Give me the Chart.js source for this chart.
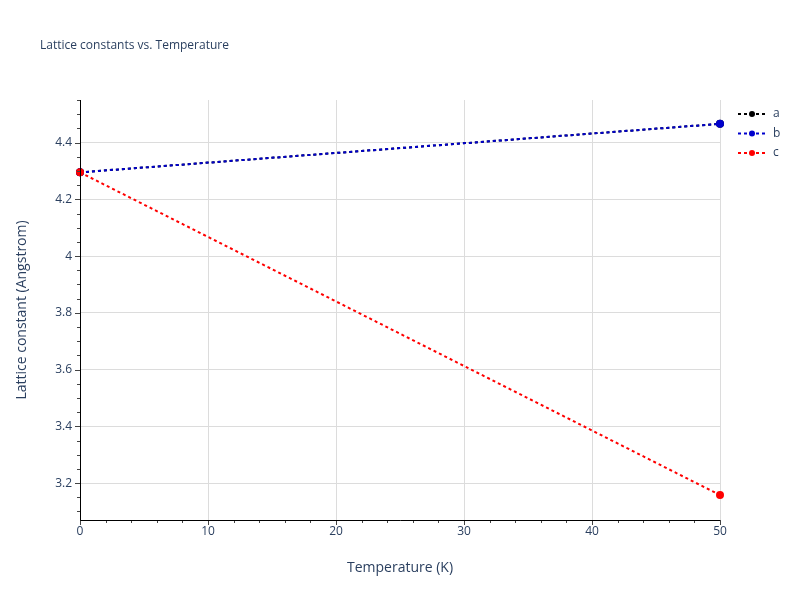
<!DOCTYPE html>
<html><head><meta charset="utf-8">
<script src="https://cdn.jsdelivr.net/npm/chart.js@4"></script>
<style>html,body{margin:0;padding:0;background:#fff}#w{width:800px;height:600px}</style>
</head><body><div id="w"><canvas id="c" width="800" height="600"></canvas></div>
<script>
const temperatures = [0, 50];
const seriesA = [4.295, 4.466];
const seriesB = [4.295, 4.466];
const seriesC = [4.295, 3.158];
const seriesNames = ['a', 'b', 'c'];
const seriesColors = ['#000000', '#0000cd', '#ff0000'];
const FONT = '"Open Sans", "DejaVu Sans", sans-serif';
const TXT = '#2a3f5f';

function pts(ys){ return temperatures.map((x,i)=>({x, y: ys[i]})); }
const datasets = [seriesA, seriesB, seriesC].map((ys,i)=>({
  label: seriesNames[i], data: pts(ys), borderColor: seriesColors[i], backgroundColor: seriesColors[i],
  borderWidth: 2, borderDash: [3,3], pointRadius: 3, pointHoverRadius: 3, clip: false, order: 2 - i
}));

const extras = {
  id: 'extras',
  afterDraw(chart){
    const ctx = chart.ctx, a = chart.chartArea, xs = chart.scales.x, ys = chart.scales.y;
    ctx.save();
    ctx.strokeStyle = '#444'; ctx.lineWidth = 1;
    for (let v = 0; v <= 50.001; v += 2) {
      const p = Math.round(xs.getPixelForValue(v)) + 0.5;
      const len = (Math.abs(v % 10) < 1e-6) ? 5 : 3;
      ctx.beginPath(); ctx.moveTo(p, a.bottom); ctx.lineTo(p, a.bottom + len); ctx.stroke();
    }
    for (let v = 3.1; v <= 4.55; v += 0.05) {
      const p = Math.round(ys.getPixelForValue(v)) + 0.5;
      const major = Math.abs((v*10) % 2) < 1e-6 || Math.abs((v*10)%2 - 2) < 1e-6;
      const len = major ? 5 : 3;
      ctx.beginPath(); ctx.moveTo(a.left, p); ctx.lineTo(a.left - len, p); ctx.stroke();
    }
    ctx.strokeStyle = '#000';
    ctx.beginPath(); ctx.moveTo(a.left+0.5, a.top); ctx.lineTo(a.left+0.5, a.bottom+0.5); ctx.lineTo(a.right, a.bottom+0.5); ctx.stroke();
    ctx.fillStyle = TXT; ctx.font = '12px ' + FONT; ctx.textBaseline = 'middle'; ctx.textAlign = 'left';
    ctx.fillText('Lattice constants vs. Temperature', 40, 46);
    seriesNames.forEach((n,i)=>{
      const y = 114 + i*19.5;
      ctx.strokeStyle = seriesColors[i]; ctx.lineWidth = 2; ctx.setLineDash([3,3]);
      ctx.beginPath(); ctx.moveTo(738, y); ctx.lineTo(766, y); ctx.stroke(); ctx.setLineDash([]);
      ctx.fillStyle = seriesColors[i]; ctx.beginPath(); ctx.arc(752, y, 3, 0, Math.PI*2); ctx.fill();
      ctx.fillStyle = TXT; ctx.fillText(n, 773, y);
    });
    ctx.restore();
  }
};

new Chart(document.getElementById('c'), {
  type: 'line',
  data: { datasets },
  plugins: [extras],
  options: {
    responsive: false, animation: false, devicePixelRatio: 1,
    layout: { padding: { top: 100, right: 80, bottom: 20, left: 10 } },
    plugins: { legend: { display: false }, tooltip: { enabled: false } },
    scales: {
      x: { type: 'linear', min: 0, max: 50,
        afterFit(s){ s.height = 60; },
        ticks: { stepSize: 10, color: TXT, font: { family: FONT, size: 12 }, padding: 4, maxRotation: 0 },
        grid: { color: '#dcdcdc', lineWidth: 1, drawTicks: false },
        border: { display: false },
        title: { display: true, text: 'Temperature (K)', color: TXT, font: { family: FONT, size: 14 }, padding: { top: 14 } } },
      y: { type: 'linear', min: 3.07, max: 4.55,
        afterFit(s){ s.width = 70; },
        afterBuildTicks(s){ s.ticks = [3.2,3.4,3.6,3.8,4,4.2,4.4].map(v=>({value:v})); },
        ticks: { color: TXT, font: { family: FONT, size: 12 }, padding: 8, callback: v => String(Math.round(v*10)/10) },
        grid: { color: '#dcdcdc', lineWidth: 1, drawTicks: false },
        border: { display: false },
        title: { display: true, text: 'Lattice constant (Angstrom)', color: TXT, font: { family: FONT, size: 14 }, padding: { bottom: 6 } } }
    }
  }
});
</script></body></html>
